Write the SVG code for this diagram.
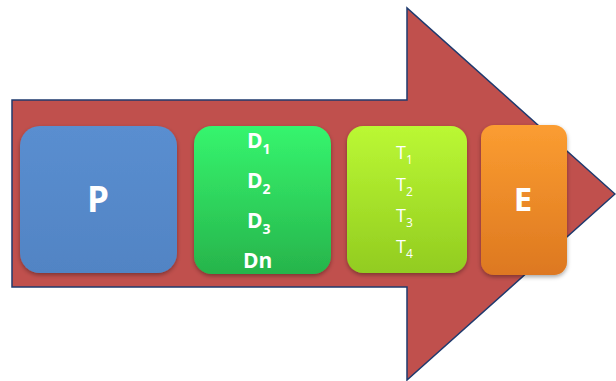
<svg xmlns="http://www.w3.org/2000/svg" width="616" height="381" viewBox="0 0 616 381">
<defs>
<linearGradient id="gP" x1="0" y1="0" x2="0" y2="1"><stop offset="0" stop-color="#5a8ed0"/><stop offset="1" stop-color="#5184c4"/></linearGradient>
<linearGradient id="gD" x1="0" y1="0" x2="0" y2="1"><stop offset="0" stop-color="#36f56e"/><stop offset="1" stop-color="#27b44b"/></linearGradient>
<linearGradient id="gT" x1="0" y1="0" x2="0" y2="1"><stop offset="0" stop-color="#bbf834"/><stop offset="1" stop-color="#92cc20"/></linearGradient>
<linearGradient id="gE" x1="0" y1="0" x2="0" y2="1"><stop offset="0" stop-color="#fb9d31"/><stop offset="1" stop-color="#dd7820"/></linearGradient>
<filter id="sh" x="-10%" y="-10%" width="120%" height="125%"><feDropShadow dx="0" dy="2" stdDeviation="2" flood-color="#000" flood-opacity="0.35"/></filter>
</defs>
<style>
.box{filter:url(#sh)}
.big{font-family:"Open Sans","Liberation Sans",sans-serif;font-weight:bold;fill:#fff;text-anchor:middle}
.dt{font-family:"Open Sans","Liberation Sans",sans-serif;font-weight:bold;fill:#fff;font-size:21px}
.tt{font-family:"Open Sans","Liberation Sans",sans-serif;fill:#fff;font-size:18px}
</style>
<g id="arrow">
<polygon points="12,100 407,100 407,8 615,194 407,380 407,287 12,287" fill="#c0504d" stroke="#1f3a6e" stroke-width="1.5" stroke-linejoin="miter"/>
</g>
<g id="node-P">
<rect class="box" x="20" y="126" width="157" height="147" rx="20" fill="url(#gP)"/>
<text class="big" x="98" y="212" font-size="35">P</text>
</g>
<g id="node-D">
<rect class="box" x="194" y="126" width="137" height="148" rx="18" fill="url(#gD)"/>
<text class="dt" x="247" y="148">D<tspan font-size="14" dy="6">1</tspan></text>
<text class="dt" x="247" y="188">D<tspan font-size="14" dy="6">2</tspan></text>
<text class="dt" x="247" y="228">D<tspan font-size="14" dy="6">3</tspan></text>
<text class="dt" x="243" y="268">Dn</text>
</g>
<g id="node-T">
<rect class="box" x="347" y="126" width="120" height="147" rx="16" fill="url(#gT)"/>
<text class="tt" x="396" y="159">T<tspan font-size="12" dy="5">1</tspan></text>
<text class="tt" x="396" y="191">T<tspan font-size="12" dy="5">2</tspan></text>
<text class="tt" x="396" y="222">T<tspan font-size="12" dy="5">3</tspan></text>
<text class="tt" x="396" y="253">T<tspan font-size="12" dy="5">4</tspan></text>
</g>
<g id="node-E">
<rect class="box" x="481" y="125" width="86" height="150" rx="13" fill="url(#gE)"/>
<text class="big" x="523" y="211" font-size="33">E</text>
</g>
<g id="connectors"></g>
</svg>
